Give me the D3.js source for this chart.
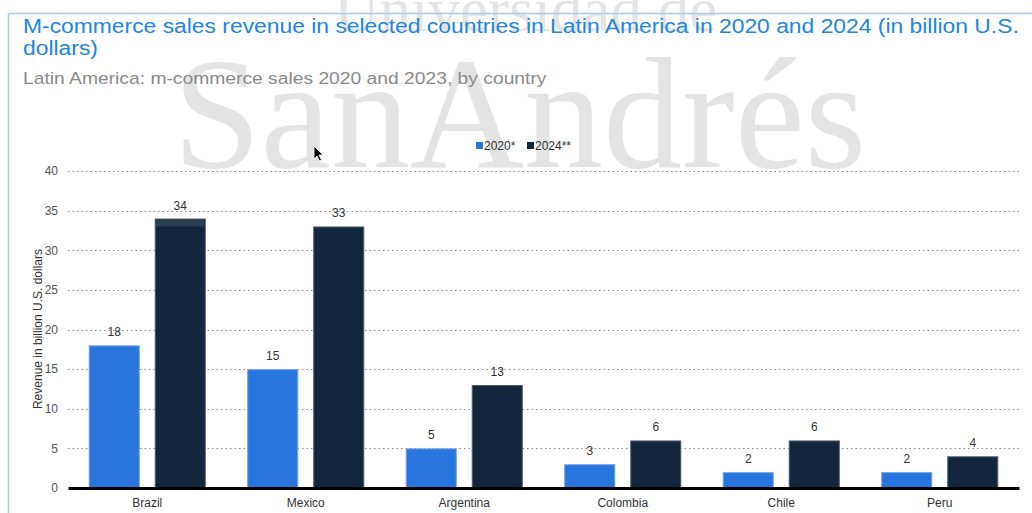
<!DOCTYPE html>
<html>
<head>
<meta charset="utf-8">
<script src="https://cdn.jsdelivr.net/npm/d3@7"></script>
<style>
  html, body { margin:0; padding:0; background:#fff; }
  svg { display:block; font-family: "Liberation Sans", Arial, sans-serif; }
</style>
</head>
<body>
<svg id="chart" width="1032" height="513"></svg>
<script>
// ===== Data =====
const countries = ['Brazil','Mexico','Argentina','Colombia','Chile','Peru'];
const seriesNames = ['2020*','2024**'];
const values2020 = [18, 15, 5, 3, 2, 2];
const values2024 = [34, 33, 13, 6, 6, 4];
const yTicks = [0, 5, 10, 15, 20, 25, 30, 35, 40];
const colors = ['#2876dd', '#12263e'];
const strokes = ['#6da2ea', '#4a5b6d'];

const svg = d3.select('#chart');
const M = {top:171, right:13, bottom:25, left:68};
const W = 1032, H = 513;

const rows = countries.map((c,i)=>({country:c, vals:[values2020[i], values2024[i]]}));

const x0 = d3.scaleBand().domain(countries).range([M.left, W - M.right]).padding(0);
const x1 = d3.scaleBand().domain(seriesNames).range([0, x0.bandwidth()])
  .paddingInner(0.227).paddingOuter(0.314);
const y = d3.scaleLinear().domain([0, 40]).range([H - M.bottom, M.top]);

// watermark
const gWm = svg.append('g').attr('fill','#e4e4e4').style('font-family','"Liberation Serif","DejaVu Serif",serif');
gWm.append('text').attr('x', 334).attr('y', 31).style('font-size','63px').text('Universidad de');
gWm.append('text').attr('x', 173).attr('y', 167).style('font-size','158px').text('SanAndrés');

// frame
svg.append('line').attr('x1',8.5).attr('x2',W).attr('y1',13.5).attr('y2',13.5).attr('stroke','#a9c9ec').attr('stroke-width',1.5);
svg.append('line').attr('x1',8.5).attr('x2',8.5).attr('y1',13.5).attr('y2',H).attr('stroke','#a9c9ec').attr('stroke-width',1.5);

// titles (slightly widened, as in the source screenshot)
const title = svg.append('text').attr('transform','translate(23,33) scale(1.143,1)')
  .attr('fill','#2286dc').style('font-size','20px');
title.append('tspan').attr('x',0).text('M-commerce sales revenue in selected countries in Latin America in 2020 and 2024 (in billion U.S.');
title.append('tspan').attr('x',0).attr('dy',22).text('dollars)');
svg.append('text').attr('transform','translate(23,84) scale(1.134,1)')
  .attr('fill','#8a8a8a').style('font-size','17px')
  .text('Latin America: m-commerce sales 2020 and 2023, by country');

// legend
const legend = svg.append('g').attr('transform','translate(476,146)');
const lx = [0, 51];
seriesNames.forEach((s,i)=>{
  const g = legend.append('g').attr('transform',`translate(${lx[i]},0)`);
  g.append('rect').attr('x',0).attr('y',-4).attr('width',7).attr('height',7).attr('fill',colors[i]);
  g.append('text').attr('x',8).attr('y',4).attr('fill','#333').style('font-size','12px').text(s);
});

// grid
svg.append('g').selectAll('line').data(yTicks.filter(d=>d>0)).join('line')
  .attr('x1', M.left).attr('x2', W - M.right)
  .attr('y1', d=>Math.round(y(d))+0.5).attr('y2', d=>Math.round(y(d))+0.5)
  .attr('stroke','#8c8c8c').attr('stroke-width',1).attr('stroke-dasharray','1.5,3');

// y axis labels
const yAxis = svg.append('g').attr('transform',`translate(${M.left},0)`)
  .call(d3.axisLeft(y).tickValues(yTicks).tickSize(0).tickPadding(10));
yAxis.select('.domain').remove();
yAxis.selectAll('text').attr('fill','#555').style('font-size','12px').style('font-family','"Liberation Sans", Arial, sans-serif');

svg.append('text').attr('transform',`translate(42,329) rotate(-90)`)
  .attr('text-anchor','middle').attr('fill','#333').style('font-size','12px')
  .text('Revenue in billion U.S. dollars');

// bars
const gGroups = svg.append('g').selectAll('g').data(rows).join('g')
  .attr('transform', d=>`translate(${x0(d.country)},0)`);
gGroups.selectAll('rect').data(d=>d.vals.map((v,i)=>({v, i, s:seriesNames[i]}))).join('rect')
  .attr('x', d=>x1(d.s)+0.5).attr('width', x1.bandwidth()-1)
  .attr('y', d=>y(d.v)+0.5).attr('height', d=>y(0)-y(d.v)-0.5)
  .attr('fill', d=>colors[d.i]).attr('stroke', d=>strokes[d.i]).attr('stroke-width',1);

// highlighted top strip on Brazil 2024 bar
svg.append('rect')
  .attr('x', x0('Brazil') + x1('2024**') + 1).attr('width', x1.bandwidth() - 2)
  .attr('y', y(values2024[0]) + 1).attr('height', y(values2024[0]-1) - y(values2024[0]) - 1)
  .attr('fill','#2b3e52');

// value labels
gGroups.selectAll('text.val').data(d=>d.vals.map((v,i)=>({v, i, s:seriesNames[i]}))).join('text')
  .attr('class','val')
  .attr('x', d=>x1(d.s)+x1.bandwidth()/2).attr('y', d=>y(d.v)-9)
  .attr('text-anchor','middle').attr('fill','#333').style('font-size','12px')
  .text(d=>d.v);

// x axis
const xAxis = svg.append('g').attr('transform',`translate(0,${y(0)})`)
  .call(d3.axisBottom(x0).tickSize(0).tickPadding(10));
xAxis.select('.domain').attr('stroke','#000').attr('stroke-width',3);
xAxis.selectAll('text').attr('fill','#333').style('font-size','12px').style('font-family','"Liberation Sans", Arial, sans-serif');

// mouse cursor
svg.append('path').attr('transform','translate(314,146)')
  .attr('d','M0,0 L0,13 L3,10 L5.5,15 L7.5,14 L5,9 L9,9 Z')
  .attr('fill','#000').attr('stroke','#fff').attr('stroke-width',0.8);
</script>
</body>
</html>
